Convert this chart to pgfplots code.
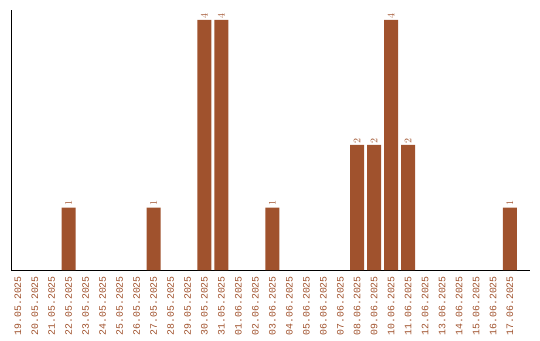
\documentclass[border=0pt]{standalone}
\usepackage{fontspec}
\setmainfont{Liberation Mono}
\usepackage{pgfplots}
\pgfplotsset{compat=1.18}
\definecolor{sienna}{HTML}{A0522D}
\begin{document}
\begin{tikzpicture}[x=1bp,y=1bp]
\path[use as bounding box] (0,0) rectangle (540,340);
\begin{axis}[
  at={(11bp,70bp)}, anchor=south west,
  scale only axis, width=519bp, height=260bp,
  xmin=-0.4, xmax=30.18, ymin=0, ymax=4.16,
  axis x line=bottom, axis y line=left,
  axis line style={-, black, line width=1pt},
  ytick=\empty,
  xtick={0,...,29},
  xticklabels={19.05.2025,20.05.2025,21.05.2025,22.05.2025,23.05.2025,24.05.2025,25.05.2025,26.05.2025,27.05.2025,28.05.2025,29.05.2025,30.05.2025,31.05.2025,01.06.2025,02.06.2025,03.06.2025,04.06.2025,05.06.2025,06.06.2025,07.06.2025,08.06.2025,09.06.2025,10.06.2025,11.06.2025,12.06.2025,13.06.2025,14.06.2025,15.06.2025,16.06.2025,17.06.2025},
  major tick length=0pt,
  xticklabel style={yshift=-6bp, rotate=90, anchor=east, font=\fontsize{9.9}{11}\selectfont, text=sienna, inner sep=0pt},
  ybar, bar width=14bp,
  nodes near coords,
  every node near coord/.append style={rotate=90, anchor=west, font=\fontsize{9.9}{11}\selectfont, text=sienna, inner sep=1.5bp},
  clip=false,
]
\addplot[fill=sienna, draw=none, bar shift=0pt,
  nodes near coords={\pgfmathprintnumber{\pgfplotspointmeta}},
  ] coordinates {
(3,1) (8,1) (11,4) (12,4) (15,1) (20,2) (21,2) (22,4) (23,2) (29,1)
};
\end{axis}
\end{tikzpicture}
\end{document}
